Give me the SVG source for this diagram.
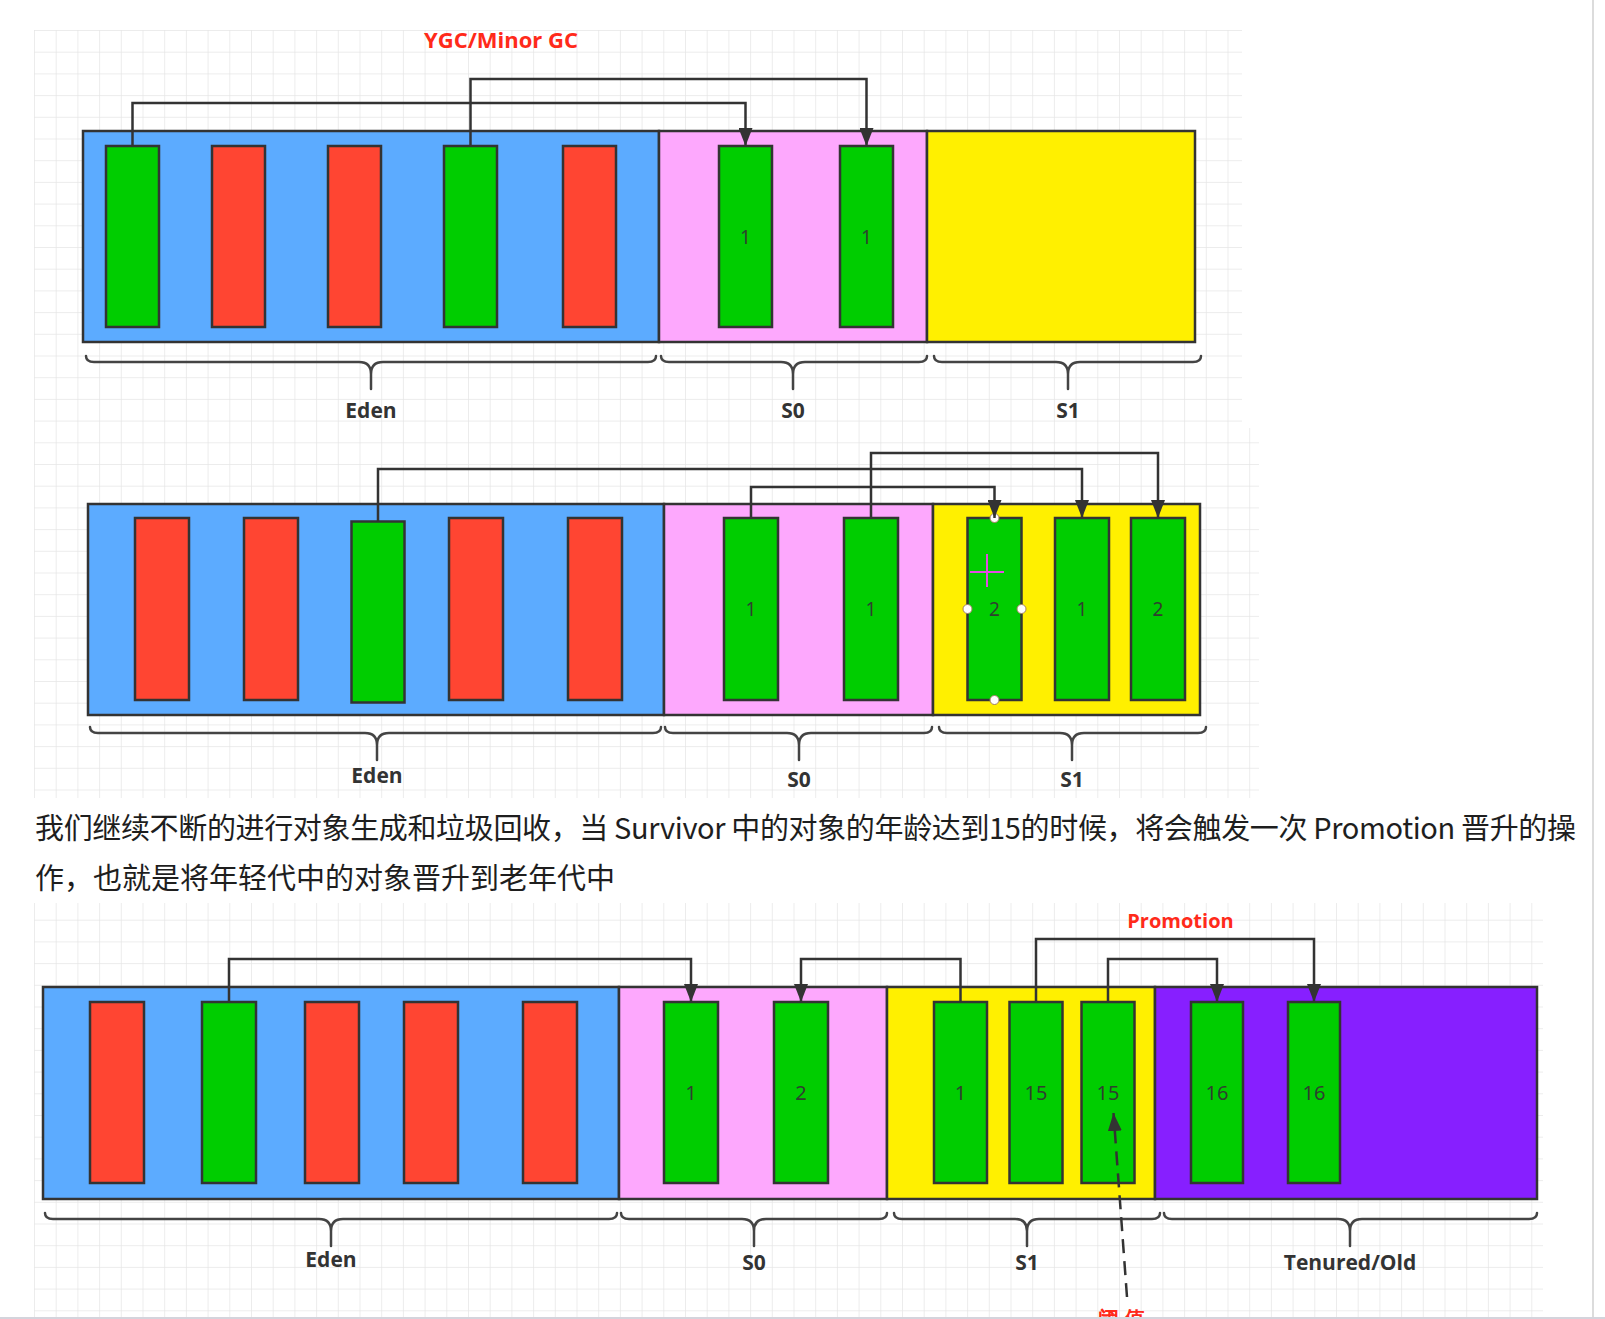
<svg xmlns="http://www.w3.org/2000/svg" width="1605" height="1319" viewBox="0 0 1605 1319">
<defs>
<pattern id="grid" width="21.7" height="21.7" patternUnits="userSpaceOnUse" x="34" y="30">
<path d="M21.7 0 L0 0 L0 21.7" fill="none" stroke="#e6e6e6" stroke-width="1.5"/>
</pattern>
<marker id="arr" markerWidth="18" markerHeight="14" refX="18" refY="7" orient="auto" markerUnits="userSpaceOnUse">
<path d="M0,0 L18,7 L0,14 Z" fill="#333"/>
</marker>
<style>
.eden{fill:#5CABFF;stroke:#333;stroke-width:2.5}
.s0{fill:#FDA8FD;stroke:#333;stroke-width:2.5}
.s1{fill:#FFF000;stroke:#333;stroke-width:2.5}
.old{fill:#871FFF;stroke:#333;stroke-width:2.5}
.g{fill:#00CD00;stroke:#333;stroke-width:2.5}
.r{fill:#FF4532;stroke:#333;stroke-width:2.5}
.num{font-family:"Noto Sans","DejaVu Sans",sans-serif;font-size:19px;fill:#2f3f2f;text-anchor:middle;dominant-baseline:central}
.num3{font-size:20px}
.lbl{font-family:"Open Sans","Liberation Sans",sans-serif;font-size:21px;font-weight:bold;fill:#333;text-anchor:middle}
.red{font-family:"Open Sans","Liberation Sans",sans-serif;font-weight:bold;fill:#FF2A1A;text-anchor:middle}
.brace{fill:none;stroke:#444;stroke-width:2.5;stroke-linecap:round}
.conn{fill:none;stroke:#333;stroke-width:2.5}
.para{font-family:"Noto Sans CJK SC","Noto Sans",sans-serif;font-size:29px;fill:#1e1e1e}
.handle{fill:#fff;stroke:#a08060;stroke-width:1}
</style>
</defs>
<rect x="0" y="0" width="1605" height="1319" fill="#fff"/>
<rect x="34" y="30" width="1208" height="398" fill="url(#grid)"/>
<rect x="34" y="428" width="1225" height="370" fill="url(#grid)"/>
<rect x="34" y="903" width="1509" height="416" fill="url(#grid)"/>
<line x1="1593" y1="0" x2="1593" y2="1319" stroke="#dcdcdc" stroke-width="2"/>

<!-- Panel 1 -->
<g id="p1-eden"><rect class="eden" x="83" y="131" width="576" height="211"/></g>
<g id="p1-s0"><rect class="s0" x="659" y="131" width="268" height="211"/></g>
<g id="p1-s1"><rect class="s1" x="927" y="131" width="268" height="211"/></g>
<g id="p1-e1"><rect class="g" x="106" y="146" width="53" height="181"/></g>
<g id="p1-e2"><rect class="r" x="212" y="146" width="53" height="181"/></g>
<g id="p1-e3"><rect class="r" x="328" y="146" width="53" height="181"/></g>
<g id="p1-e4"><rect class="g" x="444" y="146" width="53" height="181"/></g>
<g id="p1-e5"><rect class="r" x="563" y="146" width="53" height="181"/></g>
<g id="p1-a1"><rect class="g" x="719" y="146" width="53" height="181"/><text class="num" x="745.5" y="236.5">1</text></g>
<g id="p1-a2"><rect class="g" x="840" y="146" width="53" height="181"/><text class="num" x="866.5" y="236.5">1</text></g>
<g id="p1-labels">
<text class="red" x="501" y="48" font-size="22">YGC/Minor GC</text>
<path class="brace" d="M86,356 Q86,362 94,362 L359,362 Q371,362 371,374 L371,389 M371,374 Q371,362 383,362 L648,362 Q656,362 656,356"/>
<path class="brace" d="M661,356 Q661,362 669,362 L781,362 Q793,362 793,374 L793,389 M793,374 Q793,362 805,362 L919,362 Q927,362 927,356"/>
<path class="brace" d="M934,356 Q934,362 942,362 L1056,362 Q1068,362 1068,374 L1068,389 M1068,374 Q1068,362 1080,362 L1193,362 Q1201,362 1201,356"/>
<text class="lbl" x="371" y="418">Eden</text>
<text class="lbl" x="793" y="418">S0</text>
<text class="lbl" x="1068" y="418">S1</text>
</g>

<!-- Panel 2 -->
<g id="p2-eden"><rect class="eden" x="88" y="504" width="576" height="211"/></g>
<g id="p2-s0"><rect class="s0" x="664" y="504" width="269" height="211"/></g>
<g id="p2-s1"><rect class="s1" x="933" y="504" width="267" height="211"/></g>
<g id="p2-e1"><rect class="r" x="135" y="518" width="54" height="182"/></g>
<g id="p2-e2"><rect class="r" x="244" y="518" width="54" height="182"/></g>
<g id="p2-e3"><rect class="g" x="351.5" y="521.5" width="53" height="181"/></g>
<g id="p2-e4"><rect class="r" x="449" y="518" width="54" height="182"/></g>
<g id="p2-e5"><rect class="r" x="568" y="518" width="54" height="182"/></g>
<g id="p2-a1"><rect class="g" x="724" y="518" width="54" height="182"/><text class="num" x="751" y="609">1</text></g>
<g id="p2-a2"><rect class="g" x="844" y="518" width="54" height="182"/><text class="num" x="871" y="609">1</text></g>
<g id="p2-b1"><rect class="g" x="967.5" y="518" width="54" height="182"/><text class="num" x="994.5" y="609">2</text></g>
<g id="p2-b2"><rect class="g" x="1055" y="518" width="54" height="182"/><text class="num" x="1082" y="609">1</text></g>
<g id="p2-b3"><rect class="g" x="1131" y="518" width="54" height="182"/><text class="num" x="1158" y="609">2</text></g>
<g id="p2-labels">
<path class="brace" d="M90,727 Q90,733 98,733 L365,733 Q377,733 377,745 L377,760 M377,745 Q377,733 389,733 L653,733 Q661,733 661,727"/>
<path class="brace" d="M665,727 Q665,733 673,733 L787,733 Q799,733 799,745 L799,760 M799,745 Q799,733 811,733 L924,733 Q932,733 932,727"/>
<path class="brace" d="M939,727 Q939,733 947,733 L1060,733 Q1072,733 1072,745 L1072,760 M1072,745 Q1072,733 1084,733 L1198,733 Q1206,733 1206,727"/>
<text class="lbl" x="377" y="783">Eden</text>
<text class="lbl" x="799" y="787">S0</text>
<text class="lbl" x="1072" y="787">S1</text>
</g>

<!-- Text -->
<g id="paragraph">
<text class="para" x="35" y="839" textLength="1541" lengthAdjust="spacing">我们继续不断的进行对象生成和垃圾回收，当 Survivor 中的对象的年龄达到15的时候，将会触发一次 Promotion 晋升的操</text>
<text class="para" x="35" y="889">作，也就是将年轻代中的对象晋升到老年代中</text>
</g>

<!-- Panel 3 -->
<g id="p3-eden"><rect class="eden" x="43" y="987" width="576" height="212"/></g>
<g id="p3-s0"><rect class="s0" x="619" y="987" width="268" height="212"/></g>
<g id="p3-s1"><rect class="s1" x="887" y="987" width="268" height="212"/></g>
<g id="p3-old"><rect class="old" x="1155" y="987" width="382" height="212"/></g>
<g id="p3-e1"><rect class="r" x="90" y="1002" width="54" height="181"/></g>
<g id="p3-e2"><rect class="g" x="202" y="1002" width="54" height="181"/></g>
<g id="p3-e3"><rect class="r" x="305" y="1002" width="54" height="181"/></g>
<g id="p3-e4"><rect class="r" x="404" y="1002" width="54" height="181"/></g>
<g id="p3-e5"><rect class="r" x="523" y="1002" width="54" height="181"/></g>
<g id="p3-a1"><rect class="g" x="664" y="1002" width="54" height="181"/><text class="num num3" x="691" y="1092.5">1</text></g>
<g id="p3-a2"><rect class="g" x="774" y="1002" width="54" height="181"/><text class="num num3" x="801" y="1092.5">2</text></g>
<g id="p3-b1"><rect class="g" x="934" y="1002" width="53" height="181"/><text class="num num3" x="960.5" y="1092.5">1</text></g>
<g id="p3-b2"><rect class="g" x="1009.5" y="1002" width="53" height="181"/><text class="num num3" x="1036" y="1092.5">15</text></g>
<g id="p3-b3"><rect class="g" x="1081.5" y="1002" width="53" height="181"/><text class="num num3" x="1108" y="1092.5">15</text></g>
<g id="p3-o1"><rect class="g" x="1191" y="1002" width="52" height="181"/><text class="num num3" x="1217" y="1092.5">16</text></g>
<g id="p3-o2"><rect class="g" x="1288" y="1002" width="52" height="181"/><text class="num num3" x="1314" y="1092.5">16</text></g>
<g id="p3-labels">
<text class="red" x="1180.5" y="928" font-size="20">Promotion</text>
<path class="brace" d="M45,1213 Q45,1219 53,1219 L319,1219 Q331,1219 331,1231 L331,1246 M331,1231 Q331,1219 343,1219 L609,1219 Q617,1219 617,1213"/>
<path class="brace" d="M621,1213 Q621,1219 629,1219 L742,1219 Q754,1219 754,1231 L754,1246 M754,1231 Q754,1219 766,1219 L879,1219 Q887,1219 887,1213"/>
<path class="brace" d="M894,1213 Q894,1219 902,1219 L1015,1219 Q1027,1219 1027,1231 L1027,1246 M1027,1231 Q1027,1219 1039,1219 L1152,1219 Q1160,1219 1160,1213"/>
<path class="brace" d="M1164,1213 Q1164,1219 1172,1219 L1338,1219 Q1350,1219 1350,1231 L1350,1246 M1350,1231 Q1350,1219 1362,1219 L1529,1219 Q1537,1219 1537,1213"/>
<text class="lbl" x="331" y="1267">Eden</text>
<text class="lbl" x="754" y="1270">S0</text>
<text class="lbl" x="1027" y="1270">S1</text>
<text class="lbl" x="1350" y="1270">Tenured/Old</text>
<text class="red" x="1124" y="1326" font-size="21" letter-spacing="5" font-family="Noto Sans CJK SC, sans-serif">阈值</text>
</g>

<!-- Selection overlay in panel 2 -->
<g id="p2-selection">
<circle class="handle" cx="994.5" cy="518" r="4.5"/>
<circle class="handle" cx="967.5" cy="609" r="4.5"/>
<circle class="handle" cx="1021.5" cy="609" r="4.5"/>
<circle class="handle" cx="994.5" cy="700" r="4.5"/>
<path d="M970,572 H1004 M987,554 V587" stroke="#E24CE2" stroke-width="2" fill="none"/>
</g>

<g id="connectors">
<path class="conn" d="M132.5,146 V103 H745.5 V146" marker-end="url(#arr)"/>
<path class="conn" d="M470.5,146 V79 H866.5 V146" marker-end="url(#arr)"/>
<path class="conn" d="M378,521.5 V469 H1082 V518" marker-end="url(#arr)"/>
<path class="conn" d="M751,518 V487 H994.5 V518" marker-end="url(#arr)"/>
<path class="conn" d="M871,518 V453 H1158 V518" marker-end="url(#arr)"/>
<path class="conn" d="M229,1002 V959 H691 V1002" marker-end="url(#arr)"/>
<path class="conn" d="M960.5,1002 V959 H801 V1002" marker-end="url(#arr)"/>
<path class="conn" d="M1036,1002 V939 H1314 V1002" marker-end="url(#arr)"/>
<path class="conn" d="M1108,1002 V959 H1217 V1002" marker-end="url(#arr)"/>
<path class="conn" d="M1127,1297 L1113.5,1113" stroke-width="3" stroke-dasharray="14 8" marker-end="url(#arr)"/>
</g>
<line x1="0" y1="1318" x2="1605" y2="1318" stroke="#d4d4dc" stroke-width="2"/>
</svg>
